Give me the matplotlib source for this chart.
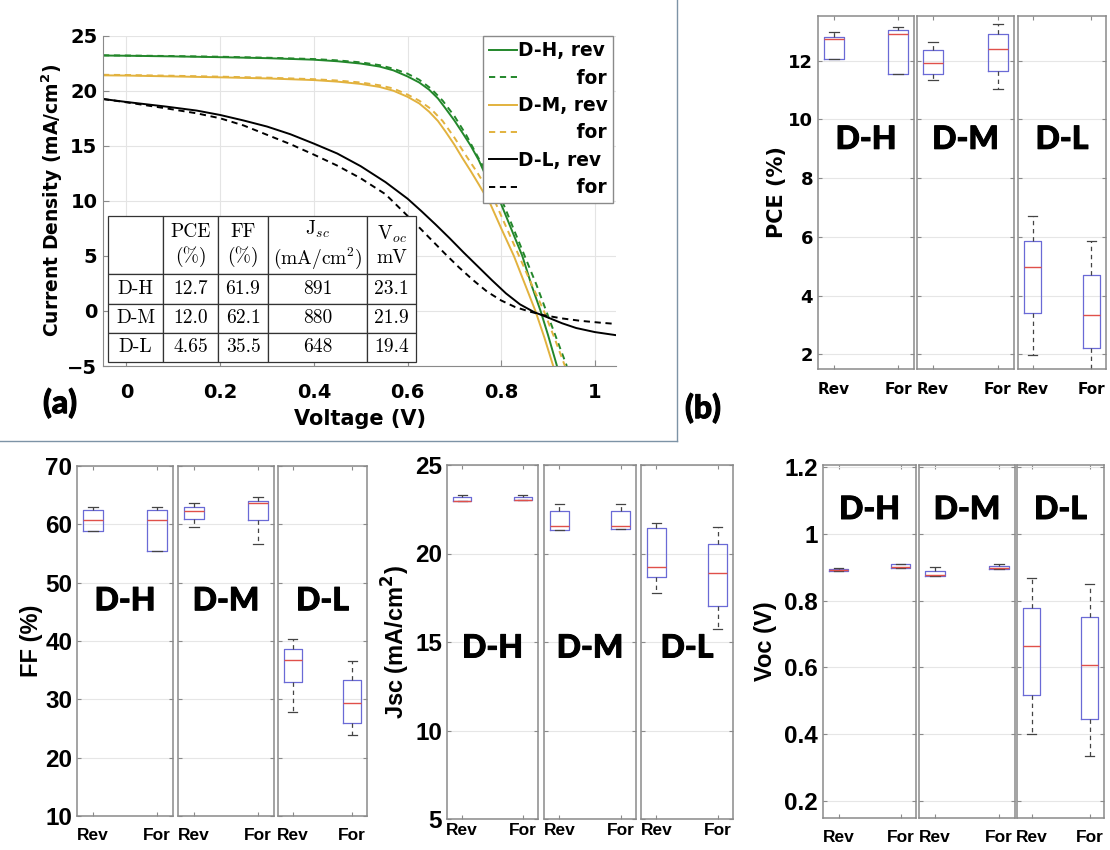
import matplotlib
matplotlib.use("Agg")
import matplotlib.pyplot as plt
from matplotlib.lines import Line2D
import matplotlib.patheffects as pe

plt.rcParams["font.family"] = "DejaVu Sans"
plt.rcParams["font.weight"] = "bold"
plt.rcParams["axes.labelweight"] = "bold"
plt.rcParams["mathtext.fontset"] = "custom"
plt.rcParams["mathtext.rm"] = "DejaVu Sans:bold"
plt.rcParams["mathtext.bf"] = "DejaVu Sans:bold"
plt.rcParams["mathtext.it"] = "DejaVu Sans:bold:italic"

# ---------------- J-V curves (V in volts, J in mA/cm^2) ----------------
v_h_rev = [-0.05, 0.0, 0.1, 0.2, 0.3, 0.4, 0.45, 0.5, 0.54, 0.57, 0.6, 0.625, 0.646,
           0.665, 0.681, 0.7, 0.717, 0.735, 0.752, 0.77, 0.797, 0.82, 0.845, 0.865,
           0.884, 0.9, 0.919]
j_h_rev = [23.2, 23.18, 23.12, 23.05, 22.96, 22.82, 22.68, 22.47, 22.2, 21.85, 21.3,
           20.75, 20.1, 19.3, 18.4, 17.3, 16.2, 15.0, 13.7, 12.0, 10.0, 7.6, 5.0, 2.3,
           0.0, -2.2, -5.0]

v_h_for = [-0.05, 0.0, 0.1, 0.2, 0.3, 0.4, 0.45, 0.5, 0.54, 0.57, 0.6, 0.625, 0.65,
           0.675, 0.7, 0.725, 0.75, 0.775, 0.802, 0.825, 0.85, 0.875, 0.896, 0.918, 0.94]
j_h_for = [23.22, 23.2, 23.15, 23.09, 23.0, 22.88, 22.76, 22.58, 22.33, 22.0, 21.55,
           21.0, 20.2, 19.1, 17.7, 16.0, 14.0, 12.1, 10.0, 7.6, 5.0, 2.4, 0.0, -2.5, -5.0]

v_m_rev = [-0.05, 0.0, 0.1, 0.2, 0.3, 0.4, 0.45, 0.5, 0.54, 0.57, 0.6, 0.625, 0.646,
           0.665, 0.681, 0.7, 0.717, 0.735, 0.752, 0.777, 0.8, 0.827, 0.85, 0.873,
           0.892, 0.911]
j_m_rev = [21.4, 21.38, 21.3, 21.22, 21.12, 20.97, 20.83, 20.62, 20.35, 20.0, 19.45,
           18.85, 18.1, 17.25, 16.3, 15.1, 13.9, 12.7, 11.5, 9.7, 7.5, 5.0, 2.5, 0.0,
           -2.4, -5.0]

v_m_for = [-0.05, 0.0, 0.1, 0.2, 0.3, 0.4, 0.45, 0.5, 0.54, 0.57, 0.6, 0.625, 0.65,
           0.675, 0.7, 0.725, 0.75, 0.77, 0.788, 0.815, 0.84, 0.865, 0.891, 0.914, 0.936]
j_m_for = [21.45, 21.43, 21.36, 21.28, 21.19, 21.05, 20.93, 20.75, 20.5, 20.2, 19.65,
           19.1, 18.35, 17.25, 15.75, 14.1, 12.5, 11.1, 9.8, 7.2, 4.8, 2.4, 0.0, -2.5, -5.0]

v_l_rev = [-0.05, 0.0, 0.085, 0.15, 0.2, 0.25, 0.3, 0.35, 0.4, 0.45, 0.5, 0.553, 0.6,
           0.63, 0.66, 0.69, 0.72, 0.75, 0.78, 0.81, 0.84, 0.87, 0.9, 0.93, 0.96, 1.0,
           1.045]
j_l_rev = [19.25, 18.98, 18.56, 18.2, 17.8, 17.3, 16.75, 16.05, 15.2, 14.3, 13.15, 11.7,
           10.2, 9.05, 7.85, 6.6, 5.3, 4.05, 2.8, 1.6, 0.6, -0.1, -0.6, -1.12, -1.55,
           -1.92, -2.2]

v_l_for = [-0.05, 0.0, 0.085, 0.15, 0.2, 0.25, 0.3, 0.35, 0.4, 0.45, 0.5, 0.553, 0.589,
           0.62, 0.65, 0.68, 0.71, 0.74, 0.77, 0.8, 0.83, 0.86, 0.89, 0.93, 0.97, 1.01,
           1.045]
j_l_for = [19.25, 18.95, 18.4, 17.95, 17.5, 16.85, 16.0, 15.15, 14.2, 13.2, 12.05, 10.6,
           9.1, 7.8, 6.5, 5.2, 3.95, 2.8, 1.75, 0.95, 0.35, -0.05, -0.38, -0.68, -0.9,
           -1.06, -1.18]

# ---------------- summary table ----------------
table_header = ["", "PCE\n(%)", "FF\n(%)", "J$_{sc}$\n(mA/cm$^2$)", "V$_{oc}$\nmV"]
table_rows = [["D-H", "12.7", "61.9", "891", "23.1"],
              ["D-M", "12.0", "62.1", "880", "21.9"],
              ["D-L", "4.65", "35.5", "648", "19.4"]]

# ---------------- box statistics: (low whisker, Q1, median, Q3, high whisker) ----------------
devices = ["D-H", "D-M", "D-L"]
scans = ["Rev", "For"]
pce_stats = [(12.06, 12.06, 12.72, 12.82, 12.96), (11.54, 11.54, 12.90, 13.03, 13.16),
             (11.35, 11.56, 11.92, 12.35, 12.62), (11.02, 11.66, 12.40, 12.92, 13.24),
             (1.96, 3.42, 4.97, 5.87, 6.70), (1.20, 2.23, 3.33, 4.69, 5.87)]
ff_stats = [(58.9, 58.9, 60.7, 62.4, 63.0), (55.5, 55.5, 60.7, 62.5, 62.9),
            (59.5, 60.9, 62.2, 63.0, 63.7), (56.7, 60.7, 63.7, 64.0, 64.7),
            (27.8, 33.0, 36.7, 38.7, 40.4), (23.8, 25.9, 29.3, 33.4, 36.5)]
jsc_stats = [(22.95, 22.95, 22.98, 23.17, 23.29), (23.0, 23.0, 23.03, 23.19, 23.33),
             (21.33, 21.33, 21.58, 22.40, 22.80), (21.37, 21.37, 21.58, 22.42, 22.80),
             (17.78, 18.70, 19.26, 21.44, 21.73), (15.72, 17.04, 18.92, 20.52, 21.52)]
voc_stats = [(0.888, 0.888, 0.891, 0.895, 0.897), (0.898, 0.898, 0.900, 0.908, 0.910),
             (0.874, 0.874, 0.875, 0.887, 0.899), (0.893, 0.893, 0.897, 0.904, 0.910),
             (0.400, 0.518, 0.663, 0.779, 0.868), (0.334, 0.447, 0.607, 0.751, 0.849)]

W, H = 1110, 850
fig = plt.figure(figsize=(W / 100, H / 100), dpi=100)


def add_ax(x0, x1, ytop, ybot):
    return fig.add_axes([x0 / W, 1 - ybot / H, (x1 - x0) / W, (ybot - ytop) / H])


GREEN = "#23872b"
GOLD = "#e2b23e"
DASH = (0, (3.2, 2.4))
# heavy rounded lettering for group names and panel letters
BIG = dict(fontfamily="Lato", fontweight="black",
           path_effects=[pe.withStroke(linewidth=0.7, foreground="black")])

# ---------------- panel (a) ----------------
ax = add_ax(103, 616, 35.7, 366)
curves = [(v_h_rev, j_h_rev, GREEN, "-", "D-H, rev"),
          (v_h_for, j_h_for, GREEN, DASH, " " * 9 + "for"),
          (v_m_rev, j_m_rev, GOLD, "-", "D-M, rev"),
          (v_m_for, j_m_for, GOLD, DASH, " " * 9 + "for"),
          (v_l_rev, j_l_rev, "black", "-", "D-L, rev"),
          (v_l_for, j_l_for, "black", DASH, " " * 9 + "for")]
for v, j, c, ls, lab in curves:
    ax.plot(v, j, color=c, linestyle=ls, lw=1.4, label=lab)
ax.set_xlim(-0.05, 1.045)
ax.set_ylim(-5, 25)
ax.set_xticks([0, 0.2, 0.4, 0.6, 0.8, 1.0])
ax.set_xticklabels(["0", "0.2", "0.4", "0.6", "0.8", "1"])
ax.set_yticks([-5, 0, 5, 10, 15, 20, 25])
ax.grid(True, color="#e4e4e4", lw=0.8)
ax.set_axisbelow(True)
for s in ("top", "right"):
    ax.spines[s].set_visible(False)
for s in ("left", "bottom"):
    ax.spines[s].set_color("#8a8a8a")
ax.tick_params(direction="in", length=4, color="#8a8a8a", labelsize=14)
ax.tick_params(axis="x", pad=12)
ax.tick_params(axis="y", pad=4)
ax.set_xlabel("Voltage (V)", fontsize=15)
ax.xaxis.set_label_coords(0.5, -0.13)
ax.set_ylabel("Current Density (mA/cm$^2$)", fontsize=13.5)
ax.yaxis.set_label_coords(-0.074, 0.5)

leg = ax.legend(loc="upper right", bbox_to_anchor=(0.994, 1.0), borderaxespad=0,
                prop=dict(size=13.4, weight="bold"), handlelength=1.5,
                handletextpad=0.05, labelspacing=0.45, borderpad=0.3,
                fancybox=False, framealpha=1, edgecolor="#8a8a8a")
leg.get_frame().set_linewidth(1.0)

tab = ax.table(cellText=table_rows, colLabels=table_header, cellLoc="center",
               colWidths=[55, 55, 50, 99, 49],
               bbox=[0.00975, 0.0121, 0.6004, 0.442])
tab.set_zorder(3)
tab.auto_set_font_size(False)
tab.set_fontsize(14)
for (r, c), cell in tab.get_celld().items():
    cell.set_edgecolor("#333333")
    cell.set_linewidth(0.9)
    cell.set_height(2.0 if r == 0 else 1.0)
    t = cell.get_text()
    t.set_fontfamily("cmr10")
    t.set_fontweight("normal")
    t.set_math_fontfamily("cm")
    t.set_linespacing(1.3)

# ---------------- box-plot panels ----------------


def box_panel(edges, ytop, ybot, stats, ylim, yticks, yticklabels, ylabel,
              ylabel_x, name_y, family, ytick_size, xtick_size, ylabel_size, xpad):
    axes = []
    for i, (x0, x1) in enumerate(edges):
        a = add_ax(x0, x1, ytop, ybot)
        bstats = []
        for k in range(2):
            lo, q1, med, q3, hi = stats[2 * i + k]
            bstats.append(dict(whislo=lo, q1=q1, med=med, q3=q3, whishi=hi,
                               label=scans[k]))
        a.bxp(bstats, positions=[1, 2], widths=0.3, capwidths=0.15, showfliers=False,
              manage_ticks=False,
              boxprops=dict(color="#6a6ad6", lw=0.9),
              medianprops=dict(color="#e0504a", lw=1.0),
              whiskerprops=dict(color="#444444", lw=0.9, linestyle=(0, (3.5, 3))),
              capprops=dict(color="#444444", lw=0.9))
        a.set_xlim(0.75, 2.25)
        a.set_ylim(*ylim)
        a.set_xticks([1, 2])
        a.set_xticklabels(scans, fontfamily=family, fontsize=xtick_size,
                          fontweight="bold")
        a.set_yticks(yticks)
        a.yaxis.grid(True, color="#e6e6e6", lw=0.8)
        a.set_axisbelow(True)
        for s in a.spines.values():
            s.set_color("#8a8a8a")
            s.set_linewidth(1.1)
        a.tick_params(direction="in", top=True, right=True, length=3,
                      color="#8a8a8a")
        a.tick_params(axis="x", pad=xpad)
        if i == 0:
            a.set_yticklabels(yticklabels, fontfamily=family, fontsize=ytick_size,
                              fontweight="bold")
            a.tick_params(axis="y", pad=3.5)
            a.set_ylabel(ylabel, fontfamily=family, fontsize=ylabel_size,
                         fontweight="bold")
            a.yaxis.set_label_coords(ylabel_x, 0.5)
        else:
            a.set_yticklabels([])
        a.text(1.5, name_y, devices[i], ha="center", va="center", fontsize=23, **BIG)
        axes.append(a)
    return axes


box_panel([(818, 914), (917, 1014), (1018, 1106)], 16, 369, pce_stats, (1.5, 13.52),
          [2, 4, 6, 8, 10, 12], ["2", "4", "6", "8", "10", "12"], "PCE (%)",
          -0.32, 9.32, "DejaVu Sans", 13, 11, 15, 9)

box_panel([(77, 173), (178, 274), (278, 367)], 466, 816, ff_stats, (10, 70),
          [10, 20, 30, 40, 50, 60, 70], ["10", "20", "30", "40", "50", "60", "70"],
          "FF (%)", -0.354, 46.9, "Liberation Sans", 17.5, 12.5, 17, 9)

box_panel([(447, 538), (544, 636), (641, 733)], 465, 819, jsc_stats, (5, 25),
          [5, 10, 15, 20, 25], ["5", "10", "15", "20", "25"],
          "Jsc (mA/cm$^2$)", -0.385, 14.66, "Liberation Sans", 17.5, 12.5, 17, 3)

box_panel([(823, 916), (919, 1015), (1017, 1104)], 465, 818, voc_stats, (0.15, 1.205),
          [0.2, 0.4, 0.6, 0.8, 1.0, 1.2], ["0.2", "0.4", "0.6", "0.8", "1", "1.2"],
          "Voc (V)", -0.495, 1.072, "Liberation Sans", 17.5, 12.5, 17, 9)

# ---------------- panel letters and frame ----------------
fig.text(60 / W, 1 - 403 / H, "(a)", ha="center", va="center", fontsize=23, **BIG)
fig.text(703 / W, 1 - 408 / H, "(b)", ha="center", va="center", fontsize=23, **BIG)
fig.add_artist(Line2D([677 / W, 677 / W], [1.0, 1 - 441 / H], transform=fig.transFigure,
                      color="#7d93a6", lw=1.0))
fig.add_artist(Line2D([0, 677 / W], [1 - 441 / H, 1 - 441 / H], transform=fig.transFigure,
                      color="#7d93a6", lw=1.0))

fig.savefig("out.png", dpi=100, facecolor="white")
